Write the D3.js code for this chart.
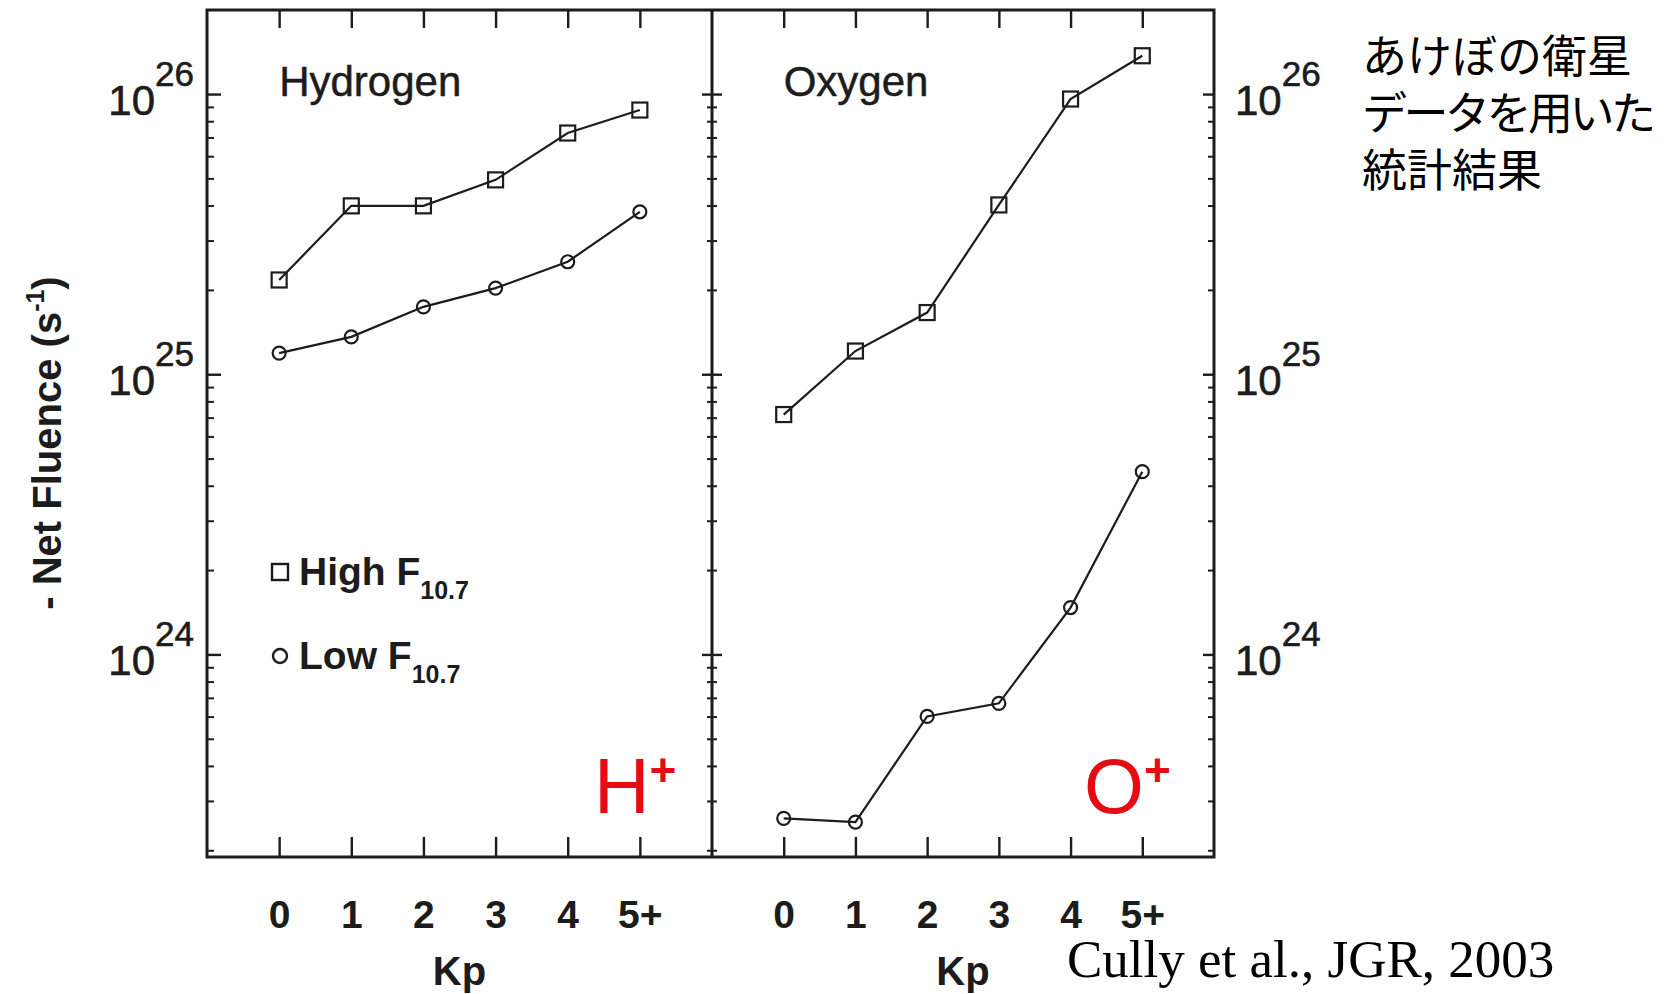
<!DOCTYPE html>
<html><head><meta charset="utf-8">
<script src="https://cdn.jsdelivr.net/npm/d3@7/dist/d3.min.js"></script>
<style>body{margin:0;background:#fff}</style>
</head><body><svg id="c" width="1678" height="994"></svg>
<script>
// ---- data ----
const kpLabels = ["0", "1", "2", "3", "4", "5+"];
const kpIndex = [0, 1, 2, 3, 4, 5];
const hydrogenHigh = [2.17e25, 3.99e25, 3.99e25, 4.94e25, 7.26e25, 8.77e25];
const hydrogenLow  = [1.19e25, 1.36e25, 1.74e25, 2.03e25, 2.52e25, 3.80e25];
const oxygenHigh   = [7.18e24, 1.21e25, 1.66e25, 4.02e25, 9.6e25, 1.37e26];
const oxygenLow    = [2.60e23, 2.52e23, 6.01e23, 6.69e23, 1.47e24, 4.49e24];
const majorTicks = [1e24, 1e25, 1e26];
const panelTitles = ["Hydrogen", "Oxygen"];
const ionNames = ["H", "O"];
const legendNames = ["High F", "Low F"];
const legendSub = "10.7";
const yTitleMain = "- Net Fluence (s";
const yTitleSup = "-1";
const xTitle = "Kp";
const noteLines = ["あけぼの衛星", "データを用いた", "統計結果"];
const citation = "Cully et al., JGR, 2003";

// ---- layout ----
const L = 207, M = 712, R = 1214, T = 10, B = 857;
const ink = "#1c1c1c";
const svg = d3.select("#c");
const y = d3.scaleLog().domain([Math.pow(10, 23.277), Math.pow(10, 26.30)]).range([B, T]);
const xs = [
  d3.scaleLinear().domain([-1, 6]).range([L, M]),
  d3.scaleLinear().domain([-1, 6]).range([M, R])
];
const minorTicks = [];
for (let d = 23; d <= 26; d++) for (let k = 2; k <= 9; k++) {
  const v = k * Math.pow(10, d);
  if (v > y.domain()[0] && v < y.domain()[1]) minorTicks.push(v);
}

function styleAxis(g, w) {
  g.select(".domain").remove();
  g.selectAll(".tick line").attr("stroke", ink).attr("stroke-width", w);
  g.selectAll(".tick text").remove();
}
function yAxisAt(gen, xpos, major, minor) {
  svg.append("g").attr("transform", `translate(${xpos},0)`)
    .call(gen(y).tickValues(majorTicks).tickSize(major).tickSizeOuter(0).tickFormat(""))
    .call(g => styleAxis(g, 2.4));
  svg.append("g").attr("transform", `translate(${xpos},0)`)
    .call(gen(y).tickValues(minorTicks).tickSize(minor).tickSizeOuter(0).tickFormat(""))
    .call(g => styleAxis(g, 2));
}
yAxisAt(d3.axisRight, L, 14, 7);
yAxisAt(d3.axisLeft, M, 10, 5);
yAxisAt(d3.axisRight, M, 10, 5);
yAxisAt(d3.axisLeft, R, 11, 6);

xs.forEach((x, p) => {
  svg.append("g").attr("transform", `translate(0,${T})`)
    .call(d3.axisBottom(x).tickValues(kpIndex).tickSize(18).tickSizeOuter(0).tickFormat(""))
    .call(g => styleAxis(g, 2.4));
  svg.append("g").attr("transform", `translate(0,${B})`)
    .call(d3.axisTop(x).tickValues(kpIndex).tickSize(20).tickSizeOuter(0).tickFormat(""))
    .call(g => styleAxis(g, 2.4));
  const gl = svg.append("g").attr("transform", `translate(0,${B})`)
    .call(d3.axisBottom(x).tickValues(kpIndex).tickSize(0).tickPadding(0).tickFormat(i => kpLabels[i]));
  gl.select(".domain").remove();
  gl.selectAll(".tick text").attr("y", 71).attr("dy", 0)
    .attr("font-family", "Liberation Sans, Arial, sans-serif").attr("font-size", 39)
    .attr("font-weight", "bold").attr("fill", ink);
  svg.append("text").attr("x", (x.range()[0] + x.range()[1]) / 2).attr("y", 985)
    .attr("text-anchor", "middle").attr("font-family", "Liberation Sans, Arial, sans-serif")
    .attr("font-size", 40).attr("font-weight", "bold").attr("fill", ink).text(xTitle);
});

// frame
svg.append("rect").attr("x", L).attr("y", T).attr("width", R - L).attr("height", B - T)
  .attr("fill", "none").attr("stroke", ink).attr("stroke-width", 3);
svg.append("line").attr("x1", M).attr("x2", M).attr("y1", T).attr("y2", B)
  .attr("stroke", ink).attr("stroke-width", 3);

// y labels
function powLabel(xpos, v, anchor) {
  const t = svg.append("text").attr("x", xpos).attr("y", y(v) + 21)
    .attr("text-anchor", anchor).attr("font-family", "Liberation Sans, Arial, sans-serif")
    .attr("font-size", 42).attr("fill", ink).attr("stroke", ink).attr("stroke-width", 0.6);
  t.append("tspan").text("10");
  t.append("tspan").attr("dy", -29).attr("font-size", 35).text(String(Math.round(Math.log10(v))));
}
majorTicks.forEach(v => { powLabel(194, v, "end"); powLabel(1235, v, "start"); });

// y title
const yt = svg.append("text").attr("transform", "translate(61,443) rotate(-90)")
  .attr("text-anchor", "middle").attr("font-family", "Liberation Sans, Arial, sans-serif")
  .attr("font-size", 40).attr("font-weight", "bold").attr("fill", ink);
yt.append("tspan").text(yTitleMain);
yt.append("tspan").attr("dy", -17).attr("font-size", 25).text(yTitleSup);
yt.append("tspan").attr("dy", 17).text(")");

// series
const panels = [
  { x: xs[0], high: hydrogenHigh, low: hydrogenLow },
  { x: xs[1], high: oxygenHigh, low: oxygenLow }
];
panels.forEach((p, pi) => {
  const line = d3.line().x((d, i) => p.x(kpIndex[i])).y(d => y(d));
  [p.high, p.low].forEach(s => {
    svg.append("path").attr("d", line(s)).attr("fill", "none")
      .attr("stroke", ink).attr("stroke-width", 2.2);
  });
  svg.selectAll(null).data(p.high).enter().append("rect")
    .attr("x", (d, i) => p.x(kpIndex[i]) - 7.5).attr("y", d => y(d) - 7.5)
    .attr("width", 15).attr("height", 15).attr("fill", "none")
    .attr("stroke", ink).attr("stroke-width", 2.2);
  svg.selectAll(null).data(p.low).enter().append("circle")
    .attr("cx", (d, i) => p.x(kpIndex[i])).attr("cy", d => y(d)).attr("r", 6.5)
    .attr("fill", "none").attr("stroke", ink).attr("stroke-width", 2.2);

  svg.append("text").attr("x", p.x(0)).attr("y", 96)
    .attr("font-family", "Liberation Sans, Arial, sans-serif").attr("font-size", 42)
    .attr("fill", ink).attr("stroke", ink).attr("stroke-width", 0.5).text(panelTitles[pi]);

  const ion = svg.append("text").attr("x", pi === 0 ? 594 : 1084).attr("y", 813)
    .attr("font-family", "Liberation Sans, Arial, sans-serif").attr("font-size", 77)
    .attr("fill", "#e50c14");
  ion.append("tspan").text(ionNames[pi]);
  ion.append("tspan").attr("dy", -27).attr("font-size", 46).attr("font-weight", "bold").text("+");
});

// legend
const legY = [572, 656];
legendNames.forEach((n, i) => {
  if (i === 0) svg.append("rect").attr("x", 272).attr("y", legY[i] - 8).attr("width", 16).attr("height", 16)
    .attr("fill", "none").attr("stroke", ink).attr("stroke-width", 2.4);
  else svg.append("circle").attr("cx", 280).attr("cy", legY[i]).attr("r", 7)
    .attr("fill", "none").attr("stroke", ink).attr("stroke-width", 2.4);
  const t = svg.append("text").attr("x", 299).attr("y", legY[i] + 13)
    .attr("font-family", "Liberation Sans, Arial, sans-serif").attr("font-size", 39)
    .attr("font-weight", "bold").attr("fill", ink);
  t.append("tspan").text(n);
  t.append("tspan").attr("dy", 14).attr("font-size", 25).text(legendSub);
});

// note
const noteSpacing = [0, -3.5, 0];
noteLines.forEach((s, i) => {
  svg.append("text").attr("x", 1362).attr("y", 73 + i * 57)
    .attr("font-family", "Noto Sans CJK JP, sans-serif").attr("font-size", 45)
    .attr("letter-spacing", noteSpacing[i])
    .attr("fill", "#000").text(s);
});
svg.append("text").attr("x", 1067).attr("y", 977)
  .attr("font-family", "Liberation Serif, Times New Roman, serif").attr("font-size", 53)
  .attr("fill", "#000").text(citation);
</script>
</body></html>
